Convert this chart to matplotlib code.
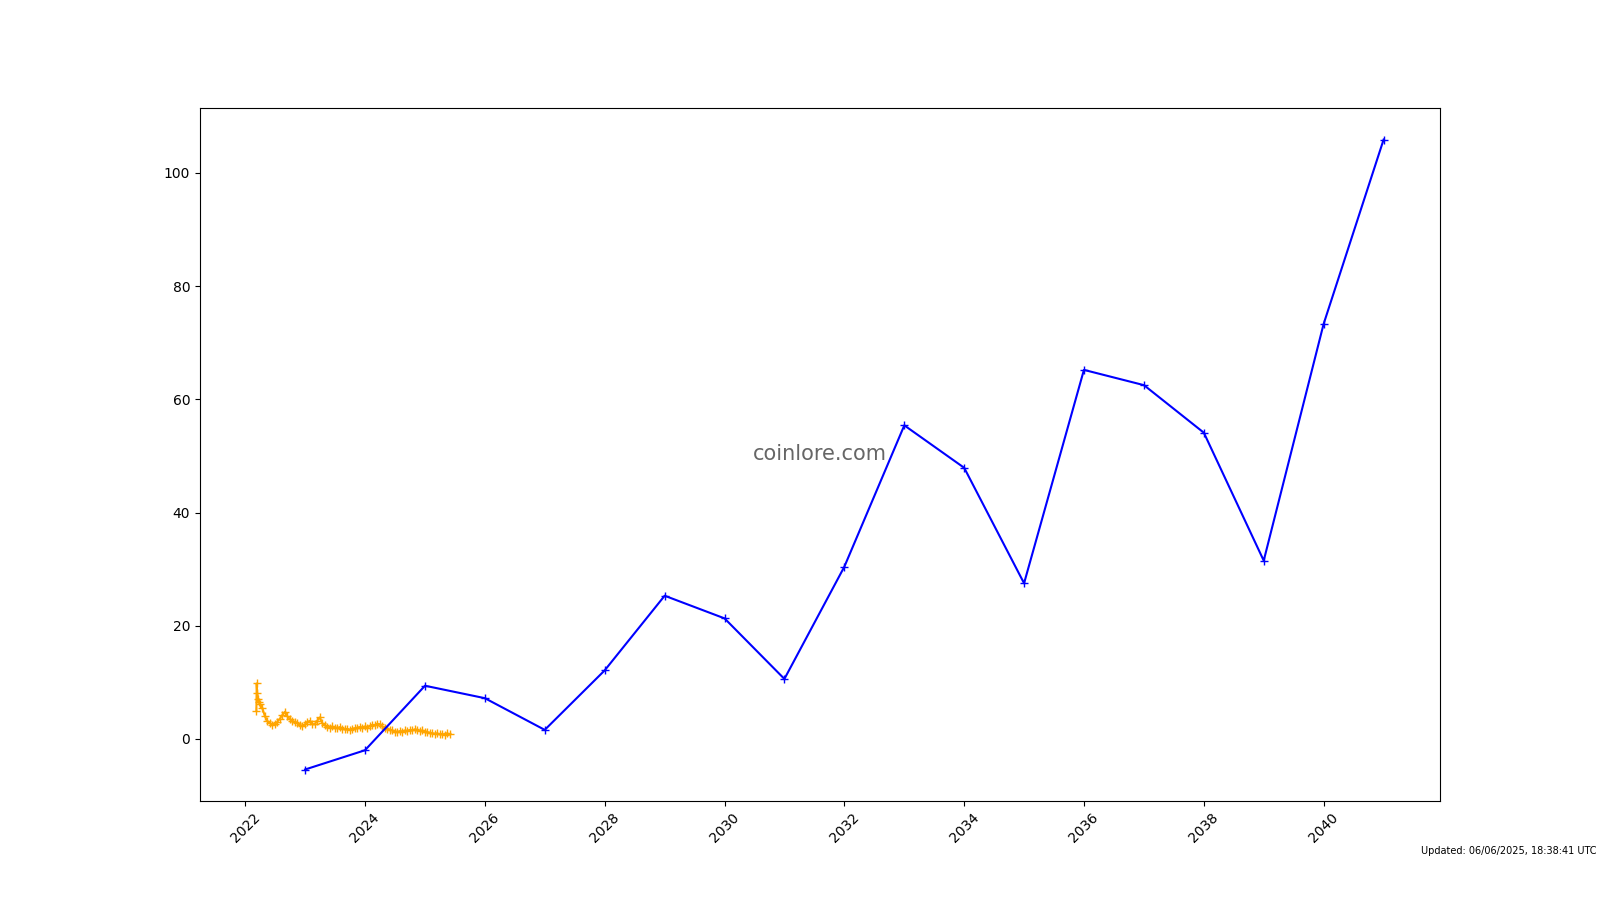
import numpy as np
import pandas as pd
import matplotlib
matplotlib.use("Agg")
import matplotlib.pyplot as plt

# forecast (yearly, Jan 1)
forecast_years = list(range(2023, 2042))
forecast_vals = [-5.4, -2.0, 9.4, 7.2, 1.6, 12.1, 25.3, 21.3, 10.6, 30.4,
                 55.4, 47.9, 27.5, 65.2, 62.5, 54.1, 31.5, 73.3, 105.9]

# price history
early_dates = ["2022-03-10", "2022-03-12", "2022-03-15", "2022-03-20", "2022-03-25"]
early_vals = [5.0, 9.8, 8.2, 7.0, 6.5]
hist_start = "2022-04-01"
hist_vals = [6.2, 5.5, 4.0, 3.2, 2.8, 2.4, 2.6, 3.0, 3.6, 4.2,
             4.8, 4.0, 3.5, 3.2, 3.0, 2.8, 2.4, 2.2,
             2.6, 3.0, 3.2, 2.6, 2.6, 3.2, 3.8, 2.8, 2.4, 2.1, 2.0, 2.2,
             2.0, 1.9, 2.1, 1.8, 1.7, 1.8, 1.6, 1.8, 1.9, 2.0, 2.1, 2.0,
             2.2, 2.0, 2.3, 2.5, 2.4, 2.7, 2.6, 2.2, 1.9, 1.8, 1.6, 1.5,
             1.3, 1.2, 1.4, 1.3, 1.5, 1.4, 1.6, 1.5, 1.7, 1.6, 1.4, 1.5,
             1.3, 1.2, 1.1, 1.0, 0.9, 1.0, 0.8, 0.9, 0.7, 1.0, 0.8]

hist_dates = list(pd.to_datetime(early_dates)) + list(
    pd.date_range(start=hist_start, periods=len(hist_vals), freq="SMS"))
hist_y = early_vals + hist_vals
fc_dates = pd.to_datetime([f"{y}-01-01" for y in forecast_years])

fig = plt.figure(figsize=(16, 9), dpi=100)
ax = fig.add_subplot(111)
ax.plot(hist_dates, hist_y, color="orange", marker="+")
ax.plot(fc_dates, forecast_vals, color="blue", marker="+")
ax.text(0.5, 0.5, "coinlore.com", transform=ax.transAxes, ha="center", va="center",
        fontsize=15, color="#555555", alpha=0.9)
plt.xticks(rotation=45)
fig.text(0.998, 0.054, "Updated: 06/06/2025, 18:38:41 UTC", ha="right", va="center", fontsize=7)
plt.savefig("out.png")
